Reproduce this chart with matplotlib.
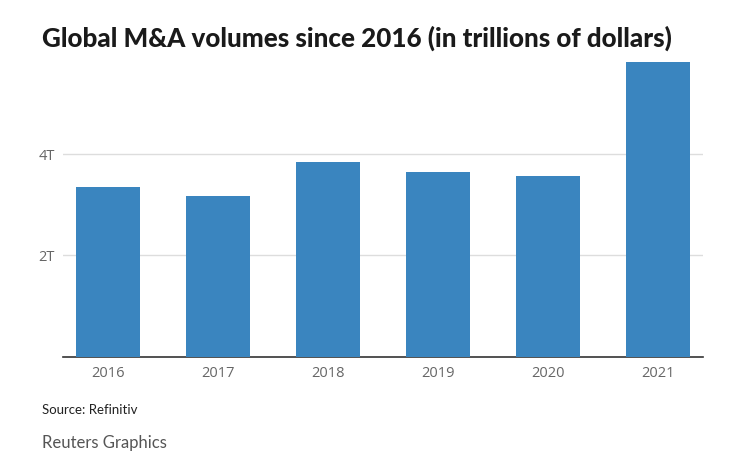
import matplotlib.pyplot as plt
import numpy as np

years = ['2016', '2017', '2018', '2019', '2020', '2021']
volumes = [3.36, 3.17, 3.85, 3.64, 3.57, 5.83]
y_ticks = [2, 4]
y_tick_labels = ['2T', '4T']

bar_color = '#3a85bf'

fig = plt.figure(figsize=(7.3, 4.7), dpi=100)
ax = fig.add_axes([63 / 730, 1 - 356.5 / 470, 640 / 730, (356.5 - 53) / 470])

x = np.arange(len(years))
ax.bar(x, volumes, width=0.575, color=bar_color, zorder=3)

ax.set_xlim(-0.41, 5.41)
ax.set_ylim(0, 6.0)
ax.set_xticks(x)
ax.set_xticklabels(years)
ax.set_yticks(y_ticks)
ax.set_yticklabels(y_tick_labels)
ax.grid(axis='y', color='#dddddd', linewidth=1, zorder=0)

for s in ['top', 'right', 'left']:
    ax.spines[s].set_visible(False)
ax.spines['bottom'].set_color('#333333')
ax.spines['bottom'].set_linewidth(1.2)
ax.tick_params(axis='both', length=0, labelsize=10.5, labelcolor='#666666')
ax.tick_params(axis='x', pad=7)
ax.tick_params(axis='y', pad=6)
for lab in ax.get_xticklabels() + ax.get_yticklabels():
    lab.set_family('Open Sans')

fig.text(42 / 730, 1 - 38 / 470, 'Global M&A volumes since 2016 (in trillions of dollars)',
         fontsize=18.7, fontweight='black', family='Lato', color='#1a1a1a',
         va='center', ha='left')
fig.text(42 / 730, 1 - 410 / 470, 'Source: Refinitiv', fontsize=9.5,
         family='Lato', color='#222222', va='center', ha='left')
fig.text(42 / 730, 1 - 443 / 470, 'Reuters Graphics', fontsize=12,
         family='Lato', color='#555555', va='center', ha='left')

fig.savefig('out.png', dpi=100)
